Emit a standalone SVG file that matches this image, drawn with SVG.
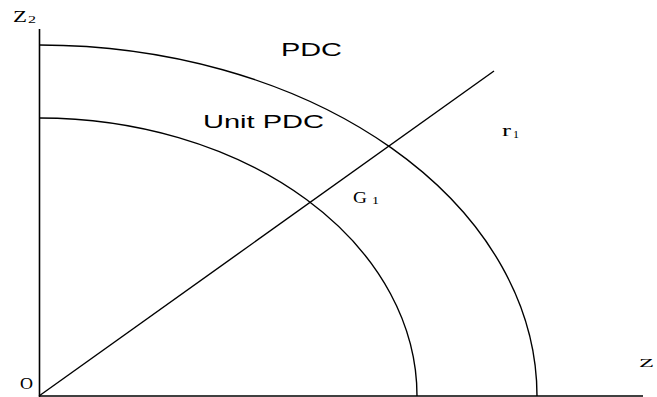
<svg xmlns="http://www.w3.org/2000/svg" width="657" height="397" viewBox="0 0 657 397">
<style>
.ln{fill:none;stroke:#000;stroke-width:1.4}
.ax{fill:none;stroke:#000;stroke-width:1.6}
.serif{font-family:"Liberation Serif","Times New Roman",serif;fill:#000}
.sans{font-family:"Liberation Sans",Arial,sans-serif;fill:#000}
</style>
<rect width="657" height="397" fill="#fff"/>
<g id="axes">
<line class="ax" x1="39.5" y1="29" x2="39.5" y2="397"/>
<line class="ax" x1="39" y1="396" x2="643" y2="396"/>
</g>
<g id="curves">
<path id="pdc" class="ln" d="M39.5 45 A498 351 0 0 1 537 396"/>
<path id="unit-pdc" class="ln" d="M39.5 118 A378 278 0 0 1 417 396"/>
<line id="ray" class="ln" x1="39" y1="396" x2="494" y2="71"/>
</g>
<g id="labels">
<text class="serif" x="13" y="22" font-size="16" textLength="14" lengthAdjust="spacingAndGlyphs">Z</text>
<text class="serif" x="28" y="23" font-size="10" textLength="8" lengthAdjust="spacingAndGlyphs">2</text>
<text class="serif" x="20" y="389" font-size="16" textLength="13" lengthAdjust="spacingAndGlyphs">O</text>
<text class="serif" x="639" y="367" font-size="12" textLength="15" lengthAdjust="spacingAndGlyphs">Z</text>
<text class="sans" x="281" y="56" font-size="18" textLength="61" lengthAdjust="spacingAndGlyphs">PDC</text>
<text class="sans" x="203" y="128" font-size="19" textLength="121" lengthAdjust="spacingAndGlyphs">Unit PDC</text>
<text class="serif" x="353" y="203" font-size="16" textLength="14" lengthAdjust="spacingAndGlyphs">G</text>
<text class="serif" x="372" y="204" font-size="11" textLength="7" lengthAdjust="spacingAndGlyphs">1</text>
<text class="serif" x="502" y="136" font-size="17" textLength="9" lengthAdjust="spacingAndGlyphs">r</text>
<text class="serif" x="513" y="138" font-size="11" textLength="6" lengthAdjust="spacingAndGlyphs">1</text>
</g>
</svg>
